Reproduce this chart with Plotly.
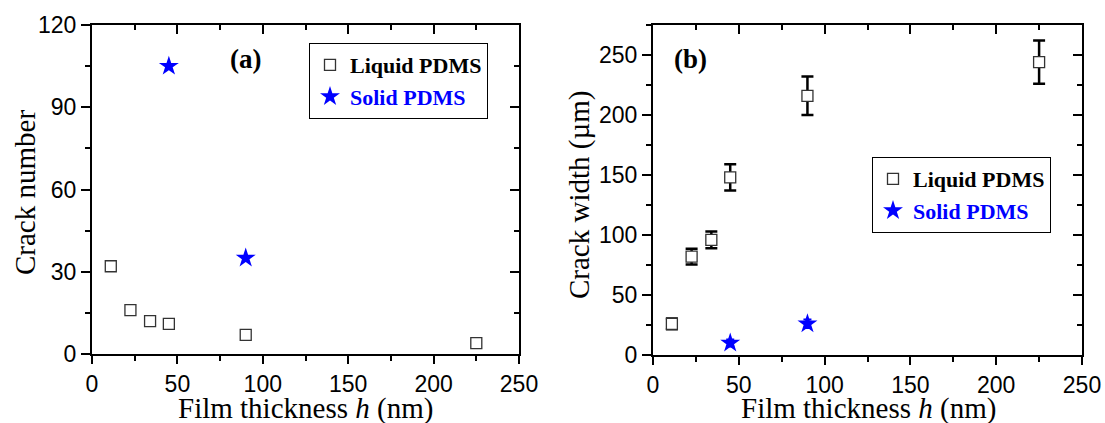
import plotly.graph_objects as go

# ---- data ----
thick_liquid = [11, 22.5, 34, 45, 90, 225]
num_liquid = [32, 16, 12, 11, 7, 4]
thick_solid = [45, 90]
num_solid = [105, 35]

width_liquid = [26, 82, 96, 148, 216, 244]
width_liquid_err = [4.5, 6.5, 7, 11, 16, 18]
width_solid = [10, 26]
width_solid_err = [3, 3.5]

x_ticks = [0, 50, 100, 150, 200, 250]
y_ticks_a = [0, 30, 60, 90, 120]
y_ticks_b = [0, 50, 100, 150, 200, 250]

W, H = 1105, 423
def px(x): return x / W
def py(y): return 1 - y / H

SANS = "Liberation Sans"
SERIF = "Liberation Serif"
BLUE = "#0000ff"

fig = go.Figure()

st = dict(symbol="star", size=15, color=BLUE, line=dict(width=0))

# panel (a)
fig.add_trace(go.Scatter(x=thick_liquid, y=num_liquid, mode="markers", name="Liquid PDMS",
                         marker=dict(symbol="square", size=11, color="white",
                                     line=dict(width=1.3, color="#333333")),
                         xaxis="x", yaxis="y", legend="legend"))
fig.add_trace(go.Scatter(x=thick_solid, y=num_solid, mode="markers",
                         name="<span style='color:#0000ff'>Solid PDMS</span>",
                         marker=st, xaxis="x", yaxis="y", legend="legend"))

# panel (b)
fig.add_trace(go.Scatter(x=thick_liquid, y=width_liquid, mode="markers", name="Liquid PDMS",
                         marker=dict(symbol="square", size=11, color="white",
                                     line=dict(width=1.3, color="#333333")),
                         error_y=dict(type="data", array=width_liquid_err, color="black",
                                      thickness=2.5, width=6),
                         xaxis="x2", yaxis="y2", legend="legend2"))
fig.add_trace(go.Scatter(x=thick_solid, y=width_solid, mode="markers",
                         name="<span style='color:#0000ff'>Solid PDMS</span>",
                         marker=dict(symbol="star", size=15, color=BLUE),
                         error_y=dict(type="data", array=width_solid_err, color=BLUE,
                                      thickness=2, width=4),
                         xaxis="x2", yaxis="y2", legend="legend2"))

# dummy traces for inside ticks on top/right axes
for xa, ya in [("x3", "y"), ("x", "y3"), ("x4", "y2"), ("x2", "y4")]:
    fig.add_trace(go.Scatter(x=[None], y=[None], xaxis=xa, yaxis=ya,
                             showlegend=False, hoverinfo="skip"))

tickfont = dict(family=SANS, size=23, color="black")

def main_x(domain, anchor):
    return dict(domain=domain, anchor=anchor, range=[0, 250], tickvals=x_ticks,
                ticks="outside", ticklen=8, tickwidth=2, tickcolor="black",
                minor=dict(dtick=25, tick0=0, ticks="outside", ticklen=5, tickwidth=2, tickcolor="black"),
                showline=True, linewidth=2, linecolor="black", mirror=True,
                showgrid=False, zeroline=False, tickfont=tickfont, automargin=False)

def main_y(domain, anchor, rng, vals, minor):
    return dict(domain=domain, anchor=anchor, range=rng, tickvals=vals,
                ticks="outside", ticklen=9, tickwidth=2, tickcolor="black",
                minor=dict(dtick=minor, tick0=0, ticks="outside", ticklen=5, tickwidth=2, tickcolor="black"),
                showline=True, linewidth=2, linecolor="black", mirror=True,
                showgrid=False, zeroline=False, tickfont=tickfont, automargin=False)

def top_x(over, anchor):
    return dict(overlaying=over, anchor=anchor, side="top", range=[0, 250], tickvals=x_ticks,
                ticks="inside", ticklen=9, tickwidth=2, tickcolor="black",
                minor=dict(dtick=25, tick0=0, ticks="inside", ticklen=5, tickwidth=2, tickcolor="black"),
                showticklabels=False, showline=False, showgrid=False, zeroline=False)

def right_y(over, anchor, rng, vals, minor):
    return dict(overlaying=over, anchor=anchor, side="right", range=rng, tickvals=vals,
                ticks="inside", ticklen=9, tickwidth=2, tickcolor="black",
                minor=dict(dtick=minor, tick0=0, ticks="inside", ticklen=5, tickwidth=2, tickcolor="black"),
                showticklabels=False, showline=False, showgrid=False, zeroline=False)

dom_xa = [px(92), px(519)]
dom_xb = [px(653), px(1082)]
dom_ya = [py(354), py(25)]
dom_yb = [py(355), py(25)]

legend_common = dict(bgcolor="white", bordercolor="black", borderwidth=1,
                     font=dict(family=SERIF, size=22, color="black", weight="bold"),
                     xanchor="left", yanchor="top", itemsizing="trace", tracegroupgap=0)

fig.update_layout(
    width=W, height=H, margin=dict(l=0, r=0, t=0, b=0),
    paper_bgcolor="white", plot_bgcolor="white", showlegend=True,
    xaxis=main_x(dom_xa, "y"),
    yaxis=main_y(dom_ya, "x", [0, 120], y_ticks_a, 15),
    xaxis2=main_x(dom_xb, "y2"),
    yaxis2=main_y(dom_yb, "x2", [0, 275], y_ticks_b, 25),
    xaxis3=top_x("x", "y"),
    yaxis3=right_y("y", "x", [0, 120], y_ticks_a, 15),
    xaxis4=top_x("x2", "y2"),
    yaxis4=right_y("y2", "x2", [0, 275], y_ticks_b, 25),
    legend=dict(x=px(309), y=py(43), **legend_common),
    legend2=dict(x=px(872), y=py(157), **legend_common),
)

title_font = dict(family=SERIF, size=29, color="black")
ann = [
    dict(text="Film thickness <i>h</i> (nm)", x=px(305), y=py(408)),
    dict(text="Film thickness <i>h</i> (nm)", x=px(868), y=py(408)),
    dict(text="Crack number", x=px(25), y=py(193), textangle=-90),
    dict(text="Crack width (µm)", x=px(579), y=py(195), textangle=-90),
]
for a in ann:
    fig.add_annotation(xref="paper", yref="paper", showarrow=False, font=title_font,
                       xanchor="center", yanchor="middle", **a)

for txt, x in [("(a)", 245), ("(b)", 690)]:
    fig.add_annotation(text=f"<b>{txt}</b>", xref="paper", yref="paper", x=px(x), y=py(59),
                       showarrow=False, xanchor="center", yanchor="middle",
                       font=dict(family=SERIF, size=27, color="black"))

fig.write_html("out.html")
